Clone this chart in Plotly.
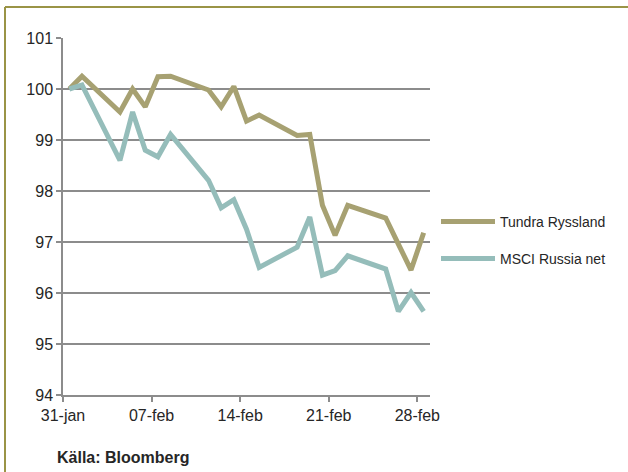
import pandas as pd
import plotly.graph_objects as go

# Trading days, Jan 31 - Feb 28 2013
dates = ["2013-01-31", "2013-02-01", "2013-02-04", "2013-02-05", "2013-02-06",
         "2013-02-07", "2013-02-08", "2013-02-11", "2013-02-12", "2013-02-13",
         "2013-02-14", "2013-02-15", "2013-02-18", "2013-02-19", "2013-02-20",
         "2013-02-21", "2013-02-22", "2013-02-25", "2013-02-26", "2013-02-27",
         "2013-02-28"]

tundra = [100.00, 100.25, 99.55, 100.00, 99.65, 100.24, 100.25, 99.98, 99.65,
          100.05, 99.37, 99.49, 99.09, 99.11, 97.72, 97.13, 97.72, 97.47, 96.96,
          96.45, 97.18]

msci = [100.00, 100.08, 98.60, 99.55, 98.80, 98.67, 99.11, 98.21, 97.67,
        97.83, 97.25, 96.50, 96.90, 97.49, 96.35, 96.44, 96.73, 96.47, 95.64,
        96.01, 95.64]

tick_dates = ["2013-01-31", "2013-02-07", "2013-02-14", "2013-02-21", "2013-02-28"]
tick_labels = ["31-jan", "07-feb", "14-feb", "21-feb", "28-feb"]

series_names = ["Tundra Ryssland", "MSCI Russia net"]
series_colors = ["#A7A172", "#95BDBA"]

FONT = "Liberation Sans, Arial, sans-serif"
GRID = "#8C8C8C"
TEXT = "#262626"

W, H = 628, 472
ML, MR, MT, MB = 63, 198, 38, 77
PW, PH = W - ML - MR, H - MT - MB


def px_x(x):
    return (x - ML) / PW


def px_y(y):
    return (H - MB - y) / PH


x = pd.to_datetime(dates)
half_day = pd.Timedelta(hours=12)

fig = go.Figure()
fig.add_trace(go.Scatter(x=x, y=tundra, name=series_names[0], mode="lines",
                         line=dict(color=series_colors[0], width=5),
                         showlegend=True, legend="legend"))
fig.add_trace(go.Scatter(x=x, y=msci, name=series_names[1], mode="lines",
                         line=dict(color=series_colors[1], width=5),
                         showlegend=True, legend="legend2"))

# Ticks sit on day boundaries, points in the middle of each day slot
tick_vals = pd.to_datetime(tick_dates) - half_day
fig.update_xaxes(
    type="date",
    range=[x[0] - half_day, pd.Timestamp(dates[-1]) + half_day],
    tickvals=list(tick_vals), ticktext=tick_labels,
    showgrid=False, zeroline=False,
    showline=True, linecolor=GRID, linewidth=1.5,
    ticks="outside", ticklen=5, tickcolor=GRID, tickwidth=1.5,
    tickfont=dict(family=FONT, size=16, color=TEXT),
)
fig.update_yaxes(
    range=[94, 101], dtick=1, tick0=94,
    showgrid=True, gridcolor=GRID, gridwidth=1.5, zeroline=False,
    showline=True, linecolor=GRID, linewidth=1.5,
    ticks="outside", ticklen=5, tickcolor=GRID, tickwidth=1.5,
    tickfont=dict(family=FONT, size=16, color=TEXT),
)

legend_style = dict(font=dict(family=FONT, size=14, color=TEXT),
                    bgcolor="rgba(0,0,0,0)", xanchor="left", yanchor="middle",
                    itemwidth=54, visible=True)
fig.update_layout(
    width=W, height=H,
    showlegend=True,
    margin=dict(l=ML, r=MR, t=MT, b=MB),
    paper_bgcolor="white", plot_bgcolor="white",
    legend=dict(x=px_x(436), y=px_y(222), **legend_style),
    legend2=dict(x=px_x(436), y=px_y(259), **legend_style),
    shapes=[
        dict(type="line", xref="paper", yref="paper",
             x0=px_x(5), x1=px_x(5), y0=px_y(7), y1=px_y(480),
             line=dict(color="#9A9446", width=2)),
        dict(type="line", xref="paper", yref="paper",
             x0=px_x(5), x1=px_x(640), y0=px_y(7), y1=px_y(7),
             line=dict(color="#9A9446", width=2)),
    ],
    annotations=[
        dict(text="<b>Källa: Bloomberg</b>", xref="paper", yref="paper",
             x=px_x(55), y=px_y(457), xanchor="left", yanchor="middle",
             showarrow=False, font=dict(family=FONT, size=16, color=TEXT)),
    ],
)

fig.write_html("out.html")
